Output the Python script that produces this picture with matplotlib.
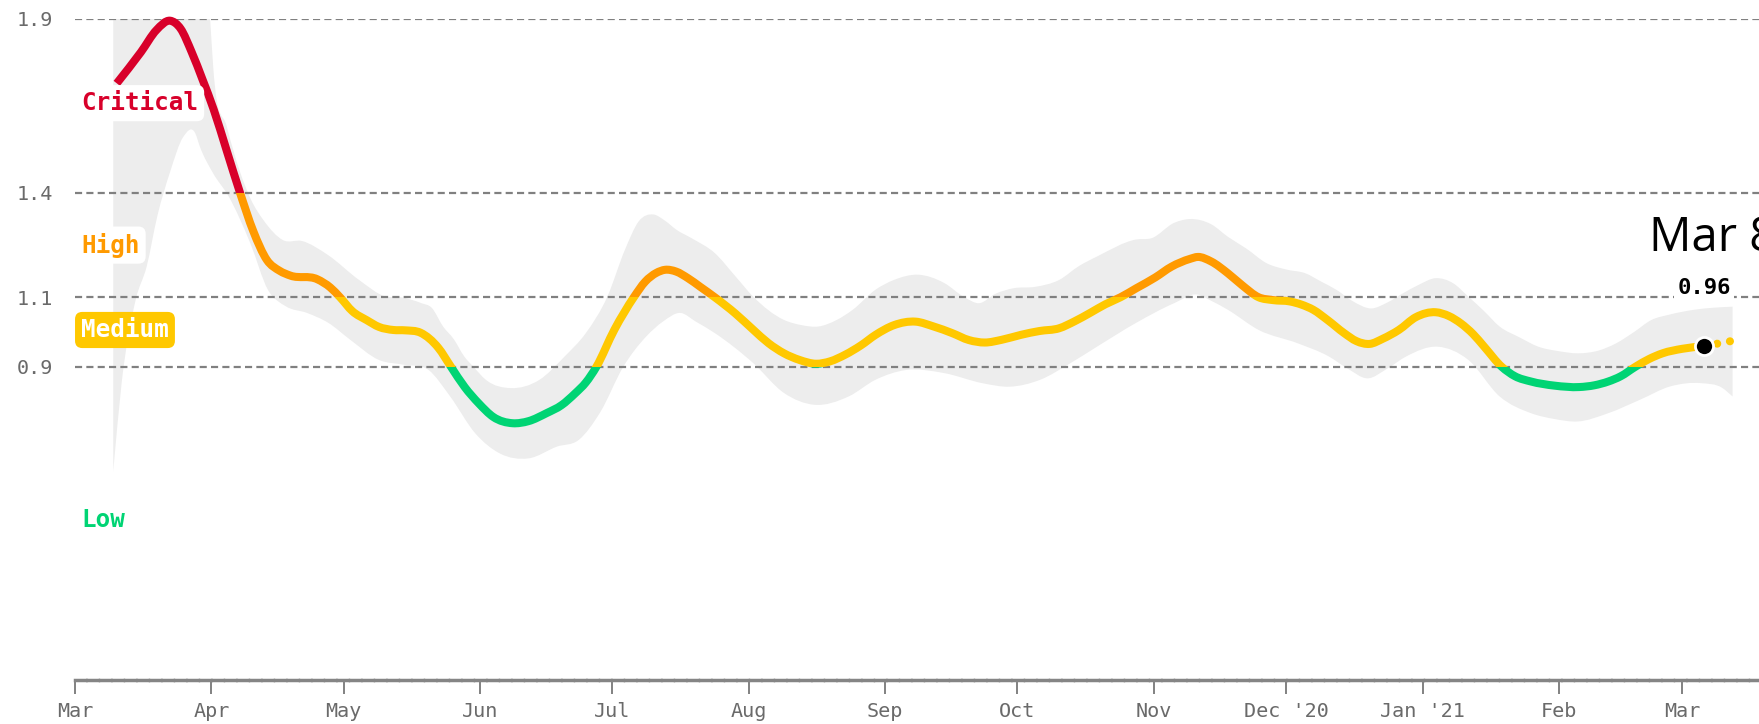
import numpy as np
import matplotlib.pyplot as plt
from matplotlib.patches import Rectangle, PathPatch
from matplotlib.path import Path

start = np.datetime64('2020-03-01')

# Rt estimate, days counted from 1 Mar 2020
rt_day = [9.5, 15, 18.5, 21.6, 24, 26.5, 29, 31.5, 34.5, 37.5, 40.5, 43.6,
          46.5, 49, 55, 58, 60.2, 63, 66.3, 69, 72.3, 75, 78.5, 82.5, 85.4,
          88.5, 91.7, 95, 99.4, 103, 107.1, 110.5, 113.6, 116, 118.4, 122.5,
          126.9, 129.5, 132, 134, 136.5, 139.2, 142, 145.3, 150, 154, 157.5,
          161, 164.5, 168.3, 171.5, 174.9, 178.5, 181.8, 186, 190.9, 195,
          199.2, 203, 206.6, 210.5, 214.8, 219, 223.5, 227, 230.5, 234, 237.4,
          241, 245.3, 249, 253.1, 255, 258, 261.8, 265, 268.8, 272, 275.9,
          278.5, 281.2, 284.5, 288.2, 291, 294, 297, 300.6, 304.5, 309, 312,
          314.7, 317.5, 320, 324, 327, 330.6, 336, 341.6, 345, 348.2, 351,
          354.3, 357.5, 360.5, 365, 370, 373.5, 376.4]
rt = [1.715, 1.805, 1.868, 1.895, 1.872, 1.805, 1.725, 1.64, 1.52, 1.40, 1.29,
      1.207, 1.176, 1.162, 1.152, 1.128, 1.10, 1.06, 1.034, 1.015, 1.006,
      1.005, 0.998, 0.955, 0.90, 0.842, 0.795, 0.756, 0.738, 0.744, 0.767,
      0.79, 0.824, 0.855, 0.90, 1.007, 1.10, 1.145, 1.17, 1.179, 1.174, 1.155,
      1.13, 1.10, 1.053, 1.007, 0.968, 0.939, 0.92, 0.909, 0.916, 0.935,
      0.962, 0.992, 1.02, 1.03, 1.016, 0.997, 0.977, 0.970, 0.978, 0.992,
      1.003, 1.011, 1.031, 1.055, 1.08, 1.10, 1.126, 1.157, 1.188, 1.21, 1.216,
      1.203, 1.169, 1.135, 1.10, 1.092, 1.088, 1.079, 1.064, 1.034, 0.997,
      0.974, 0.966, 0.981, 1.006, 1.043, 1.057, 1.046, 1.025, 0.994, 0.958,
      0.90, 0.873, 0.858, 0.846, 0.842, 0.847, 0.858, 0.873, 0.90, 0.923,
      0.939, 0.952, 0.96, 0.968, 0.975]
last_day = 370
last_value = 0.96

# upper / lower edge of the uncertainty band
hi_day = [8.7, 30.7, 31.4, 34.5, 37.5, 40, 42.8, 47.3, 51.5, 57.4, 64.5, 70.6,
          74, 78.7, 81, 83.6, 86, 88.4, 90.5, 93.3, 99, 105.5, 111.2, 116,
          120.9, 124.9, 128, 131.4, 134, 136.6, 140, 145.3, 150, 154, 161, 165,
          168.8, 173, 176.6, 181.8, 186, 191.4, 197.4, 202, 205.3, 209, 213.1,
          218, 223.5, 228, 232.2, 240.9, 244.5, 249.6, 253.2, 258, 261.8, 266,
          270.6, 275, 279.4, 283, 286.5, 290, 294.4, 298, 301.5, 305, 309, 313,
          316.4, 320, 323.5, 328, 332.3, 337, 341.2, 346, 350, 354, 358, 362,
          367.6, 372, 376.4]
hi = [1.9, 1.9, 1.762, 1.59, 1.46, 1.38, 1.322, 1.264, 1.262, 1.222, 1.15,
      1.102, 1.10, 1.083, 1.07, 1.016, 0.98, 0.93, 0.90, 0.863, 0.839, 0.863,
      0.93, 0.997, 1.102, 1.237, 1.318, 1.338, 1.32, 1.294, 1.27, 1.227, 1.16,
      1.102, 1.035, 1.02, 1.016, 1.035, 1.064, 1.122, 1.15, 1.165, 1.141, 1.10,
      1.083, 1.11, 1.126, 1.13, 1.15, 1.19, 1.218, 1.266, 1.27, 1.314, 1.325,
      1.31, 1.274, 1.24, 1.198, 1.18, 1.169, 1.145, 1.121, 1.09, 1.068, 1.085,
      1.111, 1.135, 1.155, 1.14, 1.102, 1.06, 1.016, 0.985, 0.958, 0.945,
      0.939, 0.947, 0.968, 1.0, 1.035, 1.05, 1.064, 1.07, 1.073]
lo_day = [8.7, 10.6, 13.8, 16.3, 18.7, 21.6, 24.6, 27.3, 28.4, 31.4, 34.9,
          39.8, 43.8, 47.9, 52.7, 57.6, 62.5, 69, 74.7, 80.3, 85.2, 90.9, 96.5,
          103, 109.5, 114.4, 119.3, 124.5, 129.7, 133.5, 137.5, 141, 145.3,
          154, 161, 167.9, 175.7, 181.8, 188.7, 197.4, 206.1, 212.2, 219.2,
          226.1, 232.2, 240.9, 249.6, 254.8, 258, 261.8, 268.8, 277.6, 284.7,
          289, 293.5, 298, 302.3, 309.4, 316.4, 323.5, 330.6, 336, 341.2, 348.2,
          355.3, 362.3, 369.4, 374, 376.4]
lo = [0.60, 0.853, 1.093, 1.189, 1.333, 1.46, 1.561, 1.572, 1.532, 1.456,
      1.39, 1.256, 1.122, 1.074, 1.055, 1.026, 0.978, 0.92, 0.906, 0.891,
      0.815, 0.709, 0.651, 0.637, 0.671, 0.69, 0.77, 0.90, 0.987, 1.03, 1.055,
      1.03, 0.997, 0.911, 0.825, 0.791, 0.815, 0.863, 0.891, 0.882, 0.853,
      0.843, 0.863, 0.911, 0.959, 1.026, 1.083, 1.108, 1.09, 1.064, 1.006,
      0.968, 0.93, 0.895, 0.867, 0.895, 0.93, 0.958, 0.92, 0.815, 0.767, 0.75,
      0.743, 0.767, 0.805, 0.844, 0.853, 0.84, 0.815]

level_lines = [0.9, 1.1, 1.4, 1.9]
zone_edges = [-1, 0.9, 1.1, 1.4, 3]
zone_colors = ['#00d474', '#ffc800', '#ff9a00', '#d8002a']

month_starts = ['2020-03-01', '2020-04-01', '2020-05-01', '2020-06-01',
                '2020-07-01', '2020-08-01', '2020-09-01', '2020-10-01',
                '2020-11-01', '2020-12-01', '2021-01-01', '2021-02-01',
                '2021-03-01']
month_labels = ['Mar', 'Apr', 'May', 'Jun', 'Jul', 'Aug', 'Sep', 'Oct', 'Nov',
                "Dec '20", "Jan '21", 'Feb', 'Mar']
tick_days = (np.array(month_starts, dtype='datetime64[D]') - start).astype(int)

mono = 'DejaVu Sans Mono'


def smooth_verts(x, y):
    # cubic hermite curve through the points, as bezier segments
    x = np.asarray(x, float)
    y = np.asarray(y, float)
    m = np.gradient(y, x)
    verts = [(x[0], y[0])]
    for i in range(len(x) - 1):
        dx = (x[i + 1] - x[i]) / 3
        verts += [(x[i] + dx, y[i] + m[i] * dx),
                  (x[i + 1] - dx, y[i + 1] - m[i + 1] * dx),
                  (x[i + 1], y[i + 1])]
    codes = [Path.MOVETO] + [Path.CURVE4] * (len(verts) - 1)
    return verts, codes


fig = plt.figure(figsize=(17.59, 7.24), dpi=100)
ax = fig.add_axes([0.0426, 0.0608, 0.9574, 0.9130])

# band
v_hi, c_hi = smooth_verts(hi_day, hi)
v_lo, c_lo = smooth_verts(lo_day[::-1], lo[::-1])
band = Path(v_hi + v_lo + [v_hi[0]],
            c_hi + [Path.LINETO] + c_lo[1:] + [Path.CLOSEPOLY])
ax.add_patch(PathPatch(band, fc='#ededed', ec='none', zorder=1))

for lv in level_lines:
    ax.axhline(lv, color='#808080', lw=1.6, ls=(0, (3.2, 1.9)), zorder=2)

# line, coloured by risk level
rt_day = np.array(rt_day)
rt = np.array(rt)
solid = rt_day <= last_day
tail = rt_day >= last_day
v_rt, c_rt = smooth_verts(rt_day[solid], rt[solid])
for k, c in enumerate(zone_colors):
    y0, y1 = zone_edges[k], zone_edges[k + 1]
    p = PathPatch(Path(v_rt, c_rt), fill=False, ec=c, lw=5.8,
                  capstyle='butt', joinstyle='round', zorder=3)
    ax.add_patch(p)
    p.set_clip_path(Rectangle((-50, y0), 500, y1 - y0, transform=ax.transData))
    ln2, = ax.plot(rt_day[tail], rt[tail], color=c, lw=5.8,
                   ls=(0, (0.01, 1.6)), dash_capstyle='round', zorder=3)
    ln2.set_clip_path(Rectangle((-50, y0), 500, y1 - y0, transform=ax.transData))

ax.plot(last_day, last_value, 'o', ms=13, mfc='black', mec='white', mew=2,
        zorder=5, clip_on=False)
ax.text(last_day, 1.126, f'{last_value:.2f}', family=mono, fontsize=16,
        fontweight='bold', color='black', ha='center', va='center', zorder=6,
        bbox=dict(boxstyle='square,pad=0.15', fc='white', ec='none'))
ax.text(357.5, 1.27, 'Mar 8', family='Open Sans', fontsize=34, color='black',
        ha='left', va='center', zorder=6, clip_on=False)

# risk level labels
box = 'round,pad=0.25,rounding_size=0.3'
ax.text(1.4, 1.658, 'Critical', family=mono, fontsize=17.5, fontweight='bold',
        color='#d8002a', ha='left', va='center', zorder=4,
        bbox=dict(boxstyle=box, fc='white', ec='none'))
ax.text(1.4, 1.25, 'High', family=mono, fontsize=17.5, fontweight='bold',
        color='#ff9a00', ha='left', va='center', zorder=4,
        bbox=dict(boxstyle=box, fc='white', ec='none'))
ax.text(1.4, 1.006, 'Medium', family=mono, fontsize=17.5, fontweight='bold',
        color='white', ha='left', va='center', zorder=4,
        bbox=dict(boxstyle=box, fc='#ffc800', ec='none'))
ax.text(1.4, 0.46, 'Low', family=mono, fontsize=17.5, fontweight='bold',
        color='#00d474', ha='left', va='center', zorder=4)

ax.set_xlim(0, 382.4)
ax.set_ylim(0, 1.9)

# axes styling
for s in ['top', 'right', 'left']:
    ax.spines[s].set_visible(False)
ax.spines['bottom'].set_color('#858585')
ax.spines['bottom'].set_linewidth(2.5)
ax.spines['bottom'].set_linestyle((0, (3, 0.6)))

ax.set_yticks(level_lines)
ax.set_yticklabels([f'{v:.1f}' for v in level_lines], family=mono,
                   fontsize=14.5, color='#6a6a6a')
ax.tick_params(axis='y', length=0, pad=16)

ax.set_xticks(tick_days)
ax.set_xticklabels(month_labels, family=mono, fontsize=14.5, color='#6a6a6a')
ax.tick_params(axis='x', length=10, width=1.3, color='#777777', pad=6)

fig.savefig('out.png', dpi=100)
